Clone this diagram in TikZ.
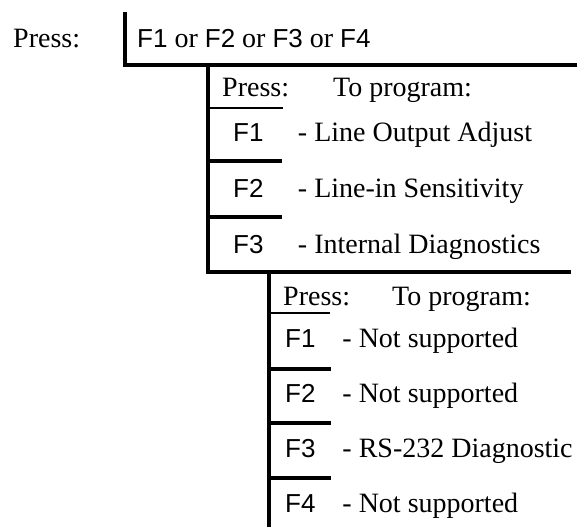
\documentclass[tikz,border=0pt]{standalone}
\usepackage{fontspec}
\setmainfont{Liberation Serif}
\newfontfamily\keyfamily{Liberation Sans}
\usetikzlibrary{positioning}
\newcommand{\bodyfnt}{\fontsize{28}{32}\selectfont}
\newcommand{\keyfnt}{\keyfamily\fontsize{26}{30}\selectfont}
\tikzset{
  lbl/.style={anchor=base west, inner sep=0pt, font=\bodyfnt},
  keylbl/.style={anchor=base west, inner sep=0pt, font=\keyfnt},
  trunk/.style={line width=4pt},
  headrule/.style={line width=2pt}
}

\begin{document}
\begin{tikzpicture}[x=1pt, y=-1pt]
  \useasboundingbox (0,0) rectangle (587,527);

  % Top level
  \node[lbl] (press0) at (13,48) {Press:};
  \node[lbl] (keys0) at (137,48) {{\keyfnt F1} or {\keyfnt F2} or {\keyfnt F3} or {\keyfnt F4}};
  \coordinate (t0) at (125,12);
  \coordinate (c0) at (125,65);
  \coordinate (e0) at (577,65);
  \draw[trunk] (t0) -- (c0) -- (e0);

  % Sub menu 1
  \coordinate (t1) at (208,65);
  \coordinate (c1) at (208,272);
  \coordinate (e1) at (571,272);
  \draw[trunk] (t1) -- (c1) -- (e1);
  \node[lbl] (press1) at (222,97) {Press:};
  \node[lbl] (prog1) at (333,97) {To program:};
  \draw[headrule] (208,108) -- (283,108);
  \foreach \k/\txt [count=\i] in {F1/Line Output Adjust, F2/Line-in Sensitivity, F3/Internal Diagnostics} {
    \node[keylbl] (ka\i) at (233,{142+55.5*(\i-1)}) {\k};
    \node[lbl, base right=34pt of ka\i] (da\i) {- \txt};
  }
  \foreach \y in {161,217}
    \draw[trunk] (208,\y) -- (282,\y);

  % Sub menu 2
  \coordinate (t2) at (269,272);
  \coordinate (b2) at (269,527);
  \draw[trunk] (t2) -- (b2);
  \node[lbl] (press2) at (283,305) {Press:};
  \node[lbl] (prog2) at (392,305) {To program:};
  \draw[headrule] (269,313) -- (330,313);
  \foreach \k/\txt [count=\i] in {F1/Not supported, F2/Not supported, F3/RS-232 Diagnostic, F4/Not supported} {
    \node[keylbl] (kb\i) at (285,{347+55*(\i-1)}) {\k};
    \node[lbl, base right=26.5pt of kb\i] (db\i) {- \txt};
  }
  \foreach \y in {369,423,478}
    \draw[trunk] (269,\y) -- (331,\y);
\end{tikzpicture}
\end{document}
